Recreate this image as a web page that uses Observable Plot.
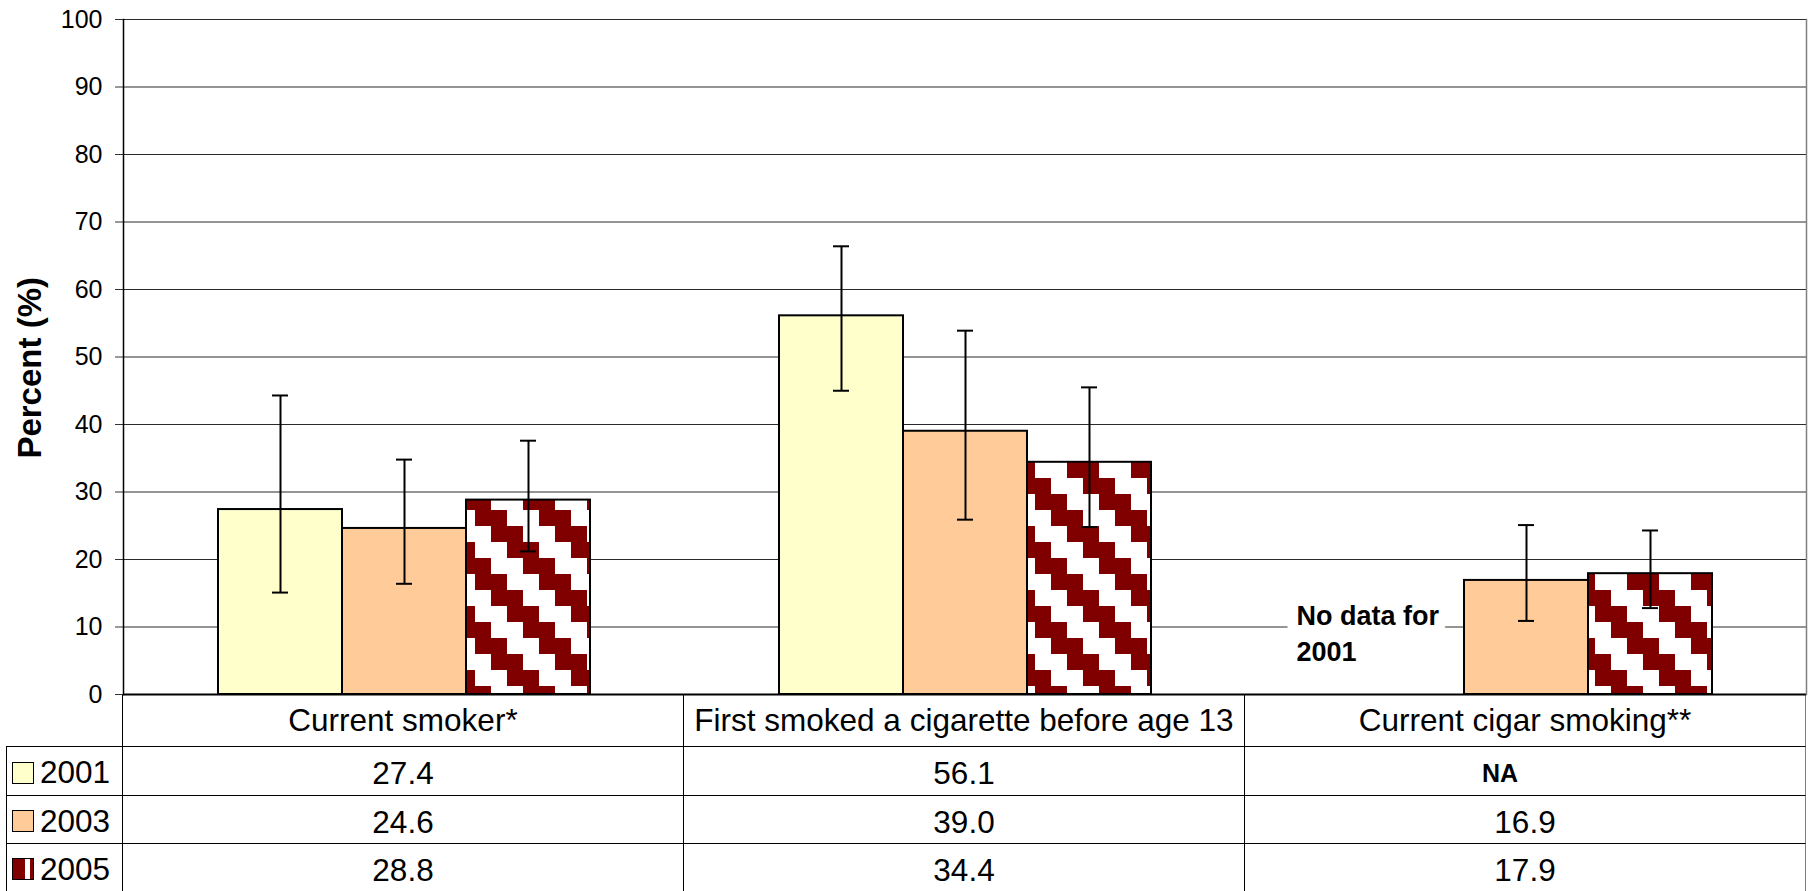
<!DOCTYPE html>
<html>
<head>
<meta charset="utf-8">
<script src="https://cdn.jsdelivr.net/npm/d3@7"></script>
<script src="https://cdn.jsdelivr.net/npm/@observablehq/plot@0.6"></script>
<style>
  html, body { margin: 0; padding: 0; background: #fff; }
  body { font-family: "Liberation Sans", Arial, sans-serif; color: #000; width: 1813px; }
  #chart { position: relative; z-index: 2; height: 695px; }
  #chart svg { display: block; overflow: visible; }
  #table {
    position: relative; z-index: 1;
    display: grid;
    grid-template-columns: 117px 561px 561px 561px;
    grid-template-rows: 52px 49px 48px 47px;
    margin-left: 6px;
    width: 1800px;
  }
  .cell {
    box-sizing: border-box;
    display: flex; align-items: center; justify-content: center;
    font-size: 31.5px; color: #000;
    border-right: 1px solid #000; border-bottom: 1px solid #000;
    white-space: nowrap;
  }
  .cell.data { padding-top: 5px; }
  .cell.last { border-right-color: #808080; }
  .cell.corner { border-right: 1px solid #000; }
  .cell.leg { justify-content: flex-start; border-left: 1px solid #000; padding-left: 5px; padding-top: 3px; }
  .cell.bottom { border-bottom: none; }
  .cell .na { font-weight: bold; font-size: 25px; margin-right: 50px; }
  .sw { display: inline-block; box-sizing: border-box; width: 22px; height: 22px; border: 1.5px solid #000; margin-right: 6px; }
</style>
</head>
<body>
<div id="chart"></div>
<div id="table"></div>
<script>
// ---------------- data ----------------
const categories = ["Current smoker*", "First smoked a cigarette before age 13", "Current cigar smoking**"];
const years = ["2001", "2003", "2005"];
const values2001 = [27.4, 56.1, null];
const values2003 = [24.6, 39.0, 16.9];
const values2005 = [28.8, 34.4, 17.9];
const lower2001 = [15.1, 45.0, null];
const upper2001 = [44.3, 66.4, null];
const lower2003 = [16.4, 25.9, 10.9];
const upper2003 = [34.8, 53.9, 25.1];
const lower2005 = [21.2, 24.8, 12.8];
const upper2005 = [37.6, 45.5, 24.3];
const yTicks = [0, 10, 20, 30, 40, 50, 60, 70, 80, 90, 100];
const yTitle = "Percent (%)";
const missingPrefix = "No data for";
const missingCell = "NA";

// ---------------- styles ----------------
const fills = {"2001": "#FFFFCC", "2003": "#FFCC99", "2005": "url(#diag)"};
const swatchBg = {
  "2001": "#FFFFCC",
  "2003": "#FFCC99",
  "2005": "linear-gradient(to right, #800000 0 62%, #fff 62% 86%, #800000 86%)"
};

const valueSeries = [values2001, values2003, values2005];
const lowerSeries = [lower2001, lower2003, lower2005];
const upperSeries = [upper2001, upper2003, upper2005];

const rows = categories.flatMap((c, i) => years.map((y, j) => ({
  category: c, year: y,
  value: valueSeries[j][i], lo: lowerSeries[j][i], hi: upperSeries[j][i]
})));
const present = rows.filter(d => d.value != null);
const missing = rows.filter(d => d.value == null);

const barMarks = years.map(y => Plot.barY(present.filter(d => d.year === y), {
  fx: "category", x: "year", y: "value",
  fill: fills[y], stroke: "#000", strokeWidth: 2
}));

const plot = Plot.plot({
  width: 1813,
  height: 695,
  marginLeft: 123,
  marginRight: 7,
  marginTop: 19,
  marginBottom: 1,
  style: {fontFamily: "'Liberation Sans', Arial, sans-serif", color: "#000", background: "transparent", overflow: "visible"},
  fx: {domain: categories, padding: 0, axis: null},
  x: {domain: years, paddingInner: 0, paddingOuter: 0.75, axis: null},
  y: {domain: [0, 100], axis: null},
  marks: [
    Plot.gridY(yTicks.filter(t => t > 0), {stroke: "#2a2a2a", strokeOpacity: 1, strokeWidth: 1}),
    Plot.text(missing, {
      fx: "category", x: "year", y: () => 9.3,
      text: d => `${missingPrefix}\n${d.year}`,
      textAnchor: "start", dx: -106, lineAnchor: "middle", lineHeight: 1.3,
      fontSize: 27, fontWeight: "bold", fill: "#000", stroke: "#fff", strokeWidth: 22
    }),
    ...barMarks,
    Plot.ruleY([0], {stroke: "#000", strokeWidth: 2}),
    Plot.ruleX(present, {fx: "category", x: "year", y1: "lo", y2: "hi", stroke: "#000", strokeWidth: 2}),
    Plot.tickY(present, {fx: "category", x: "year", y: "lo", stroke: "#000", strokeWidth: 2, insetLeft: 54, insetRight: 54}),
    Plot.tickY(present, {fx: "category", x: "year", y: "hi", stroke: "#000", strokeWidth: 2, insetLeft: 54, insetRight: 54}),
    Plot.axisY(yTicks, {fontSize: 25, tickSize: 8, tickPadding: 13, label: null, stroke: "#333"}),
    Plot.frame({fx: () => categories[0], anchor: "left", stroke: "#000", strokeWidth: 1.5}),
    Plot.frame({fx: () => categories[categories.length - 1], anchor: "right", stroke: "#808080", strokeWidth: 1.5}),
    Plot.text([yTitle], {
      fx: () => categories[0], frameAnchor: "left", y: () => 48.4, rotate: -90, dx: -93,
      textAnchor: "middle", lineAnchor: "middle",
      text: d => d, fontSize: 33, fontWeight: "bold", fill: "#000"
    })
  ]
});

document.getElementById("chart").append(plot);

// ---- pattern for 2005 bars (anchored to the page so every bar shares one phase) ----
const svg = plot.tagName.toLowerCase() === "svg" ? plot : plot.querySelector("svg");
const defs = d3.select(svg).insert("defs", ":first-child");
function addPattern(id, px, py) {
  const p = defs.append("pattern").attr("id", id)
    .attr("patternUnits", "userSpaceOnUse").attr("width", 64).attr("height", 64)
    .attr("x", px).attr("y", py);
  p.append("rect").attr("width", 64).attr("height", 64).attr("fill", "#fff");
  const dark = "#800000";
  [[0, 0, 32], [16, 16, 32], [32, 32, 32], [48, 48, 16], [0, 48, 16]].forEach(([x, y, w]) =>
    p.append("rect").attr("x", x).attr("y", y).attr("width", w).attr("height", 16).attr("fill", dark));
}
addPattern("diag", 11, 46);
let pid = 0;
const made = new Map();
svg.querySelectorAll("rect").forEach(r => {
  const f = getComputedStyle(r).fill || "";
  if (!f.includes("diag")) return;
  const m = r.getCTM();
  const key = `${m.e}_${m.f}`;
  if (!made.has(key)) {
    const id = `diag_${pid++}`;
    addPattern(id, (((459 - m.e) % 64) + 64) % 64, (((494 - m.f) % 64) + 64) % 64);
    made.set(key, id);
  }
  r.setAttribute("fill", `url(#${made.get(key)})`);
});

// ---------------- data table below the chart ----------------
const table = document.getElementById("table");
function cell(cls, content) {
  const d = document.createElement("div");
  d.className = "cell " + cls;
  if (typeof content === "string") d.textContent = content; else if (content) d.append(content);
  table.append(d);
  return d;
}
cell("corner", "");
categories.forEach((c, i) => cell(i === categories.length - 1 ? "last" : "", c));
years.forEach((y, j) => {
  const bottom = j === years.length - 1 ? " bottom" : "";
  const leg = document.createElement("span");
  leg.style.display = "inline-flex"; leg.style.alignItems = "center";
  const sw = document.createElement("span");
  sw.className = "sw"; sw.style.background = swatchBg[y];
  leg.append(sw, document.createTextNode(y));
  cell("leg" + bottom, leg);
  categories.forEach((c, i) => {
    const v = valueSeries[j][i];
    let content;
    if (v == null) { content = document.createElement("span"); content.className = "na"; content.textContent = missingCell; }
    else content = v.toFixed(1);
    cell("data " + (i === categories.length - 1 ? "last" : "") + bottom, content);
  });
});
</script>
</body>
</html>
